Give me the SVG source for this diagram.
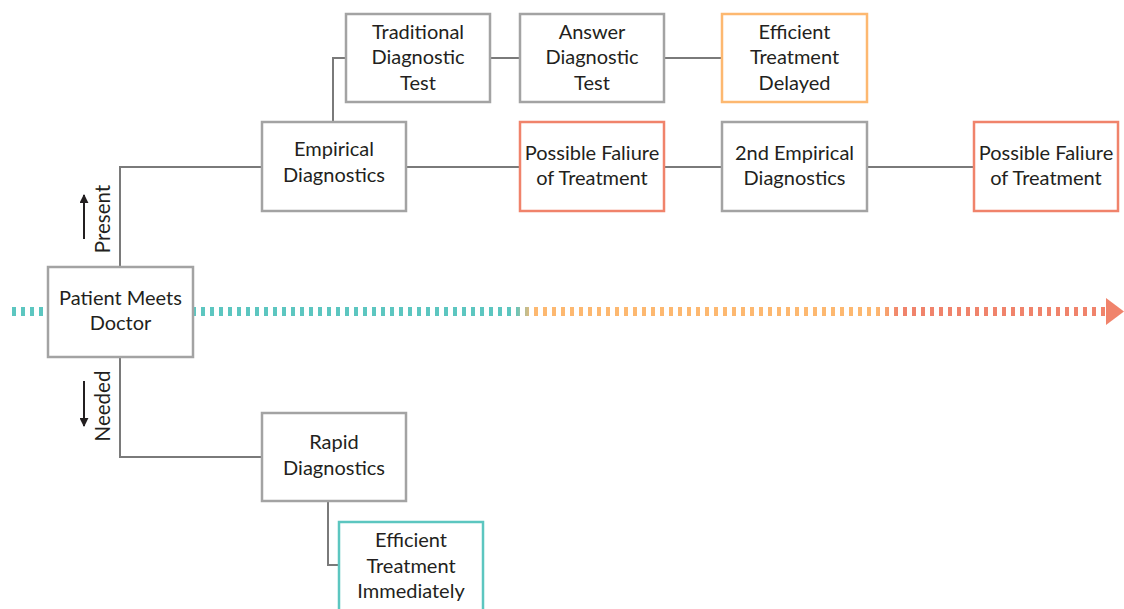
<svg xmlns="http://www.w3.org/2000/svg" width="1124" height="609" viewBox="0 0 1124 609">
  <defs>
    <linearGradient id="timeline" gradientUnits="userSpaceOnUse" x1="0" y1="0" x2="1124" y2="0">
      <stop offset="0.458" stop-color="#5cc6c0"/>
      <stop offset="0.474" stop-color="#fdb870"/>
      <stop offset="0.780" stop-color="#fdb870"/>
      <stop offset="0.800" stop-color="#f0836b"/>
    </linearGradient>
    <marker id="arrowBlack" viewBox="0 0 10 10" refX="9" refY="5" markerWidth="4.5" markerHeight="4.5" orient="auto" markerUnits="strokeWidth">
      <path d="M0,0 L10,5 L0,10 z" fill="#231f20"/>
    </marker>
    <style>
      .box { fill: #ffffff; stroke: #a3a3a3; stroke-width: 2.5; }
      .box-orange { fill: #ffffff; stroke: #fdb870; stroke-width: 2.5; }
      .box-red { fill: #ffffff; stroke: #f0836b; stroke-width: 2.5; }
      .box-teal { fill: #ffffff; stroke: #5cc6c0; stroke-width: 2.5; }
      .link { fill: none; stroke: #7a7a7a; stroke-width: 2; }
      .label { font-family: Lato, "Open Sans", sans-serif; font-size: 20px; fill: #231f20; text-anchor: middle; }
      .side { font-family: Lato, "Open Sans", sans-serif; font-size: 20.5px; fill: #231f20; text-anchor: middle; }
      .dir { stroke: #231f20; stroke-width: 2; fill: none; }
    </style>
  </defs>

  <!-- timeline -->
  <g id="timeline-bar">
    <line x1="12" y1="311.5" x2="1106" y2="311.5" stroke="url(#timeline)" stroke-width="9" stroke-dasharray="4 5"/>
    <polygon points="1106,298 1124,311.5 1106,325" fill="#f0836b"/>
  </g>

  <!-- connectors -->
  <g id="connectors">
    <polyline class="link" points="120,267 120,167 262,167"/>
    <polyline class="link" points="120,357 120,457 262,457"/>
    <polyline class="link" points="333,122 333,58 346,58"/>
    <line class="link" x1="490" y1="58" x2="520" y2="58"/>
    <line class="link" x1="664" y1="58" x2="722" y2="58"/>
    <line class="link" x1="406" y1="167" x2="520" y2="167"/>
    <line class="link" x1="664" y1="167" x2="722" y2="167"/>
    <line class="link" x1="867" y1="167" x2="974" y2="167"/>
    <polyline class="link" points="328,501 328,565 339,565"/>
  </g>

  <!-- direction labels -->
  <g id="present-label">
    <line class="dir" x1="84" y1="239" x2="84" y2="195" marker-end="url(#arrowBlack)"/>
    <text class="side" transform="translate(110,219) rotate(-90)">Present</text>
  </g>
  <g id="needed-label">
    <line class="dir" x1="84" y1="381" x2="84" y2="426" marker-end="url(#arrowBlack)"/>
    <text class="side" transform="translate(110,406) rotate(-90)">Needed</text>
  </g>

  <!-- nodes -->
  <g id="patient-meets-doctor">
    <rect class="box" x="48" y="267" width="145" height="90"/>
    <text class="label" x="120.5" y="305">Patient Meets</text>
    <text class="label" x="120.5" y="330">Doctor</text>
  </g>

  <g id="empirical-diagnostics">
    <rect class="box" x="262" y="122" width="144" height="89"/>
    <text class="label" x="334" y="156">Empirical</text>
    <text class="label" x="334" y="182">Diagnostics</text>
  </g>

  <g id="traditional-diagnostic-test">
    <rect class="box" x="346" y="14" width="144" height="88"/>
    <text class="label" x="418" y="39">Traditional</text>
    <text class="label" x="418" y="64">Diagnostic</text>
    <text class="label" x="418" y="90">Test</text>
  </g>

  <g id="answer-diagnostic-test">
    <rect class="box" x="520" y="14" width="144" height="88"/>
    <text class="label" x="592" y="39">Answer</text>
    <text class="label" x="592" y="64">Diagnostic</text>
    <text class="label" x="592" y="90">Test</text>
  </g>

  <g id="efficient-treatment-delayed">
    <rect class="box-orange" x="722" y="14" width="145" height="88"/>
    <text class="label" x="794.5" y="39">Efficient</text>
    <text class="label" x="794.5" y="64">Treatment</text>
    <text class="label" x="794.5" y="90">Delayed</text>
  </g>

  <g id="possible-failure-1">
    <rect class="box-red" x="520" y="122" width="144" height="89"/>
    <text class="label" x="592" y="160">Possible Faliure</text>
    <text class="label" x="592" y="185">of Treatment</text>
  </g>

  <g id="second-empirical-diagnostics">
    <rect class="box" x="722" y="122" width="145" height="89"/>
    <text class="label" x="794.5" y="160">2nd Empirical</text>
    <text class="label" x="794.5" y="185">Diagnostics</text>
  </g>

  <g id="possible-failure-2">
    <rect class="box-red" x="974" y="122" width="144" height="89"/>
    <text class="label" x="1046" y="160">Possible Faliure</text>
    <text class="label" x="1046" y="185">of Treatment</text>
  </g>

  <g id="rapid-diagnostics">
    <rect class="box" x="262" y="413" width="144" height="88"/>
    <text class="label" x="334" y="449">Rapid</text>
    <text class="label" x="334" y="475">Diagnostics</text>
  </g>

  <g id="efficient-treatment-immediately">
    <rect class="box-teal" x="339" y="522" width="144" height="92"/>
    <text class="label" x="411" y="547">Efficient</text>
    <text class="label" x="411" y="573">Treatment</text>
    <text class="label" x="411" y="598">Immediately</text>
  </g>
</svg>
